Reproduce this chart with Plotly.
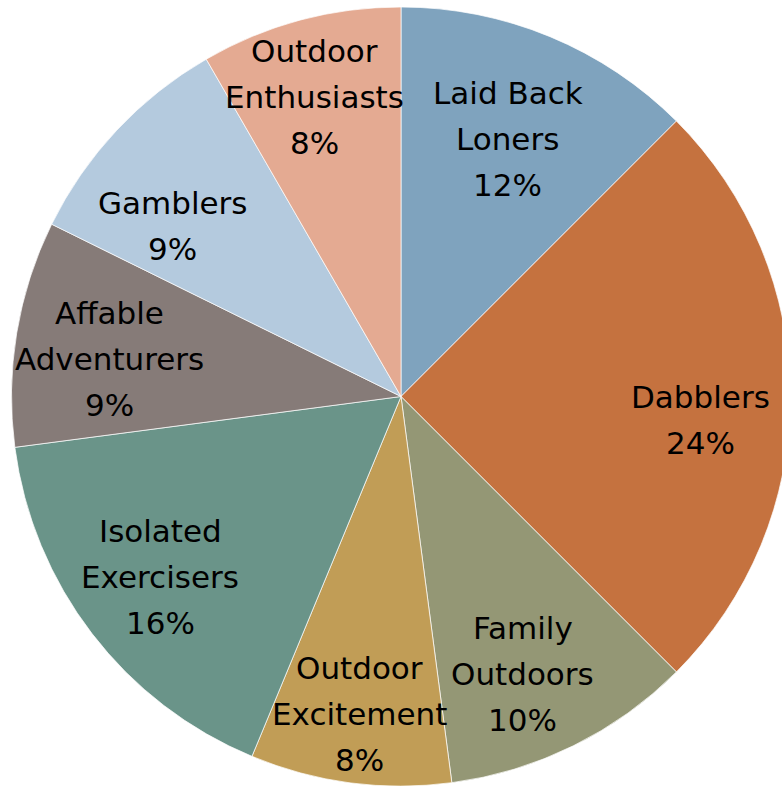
import math
import plotly.graph_objects as go

labels = ["Laid Back Loners", "Dabblers", "Family Outdoors", "Outdoor Excitement",
          "Isolated Exercisers", "Affable Adventurers", "Gamblers", "Outdoor Enthusiasts"]
label_lines = [["Laid Back", "Loners"], ["Dabblers"], ["Family", "Outdoors"], ["Outdoor", "Excitement"],
               ["Isolated", "Exercisers"], ["Affable", "Adventurers"], ["Gamblers"], ["Outdoor", "Enthusiasts"]]
values = [12, 24, 10, 8, 16, 9, 9, 8]
colors = ["#7FA3BE", "#C5723F", "#949775", "#C19D56", "#6A9489", "#867B78", "#B4CADE", "#E4AA92"]

# label nudges in pixels (dx right, dy down) relative to the 0.77R point on each slice's mid-angle
label_nudge = [(-8, 20), (0, 23), (-11, 9), (-2, 20), (-3, -2), (4, 11), (-10, 35), (-9, -10)]

W, H = 791, 786
ML, MR, MT, MB = 11, 0, 7, 0
FONT = "DejaVu Sans"
FS = 31
LINE = 46

fig = go.Figure(go.Pie(
    labels=labels, values=values, sort=False, direction="clockwise", rotation=0,
    marker=dict(colors=colors, line=dict(color="white", width=0.7)),
    textinfo="none", hoverinfo="label+value", showlegend=False,
    domain=dict(x=[0, 1], y=[0, 1]),
))

pw, ph = W - ML - MR, H - MT - MB
R = min(pw, ph) / 2
cx, cy = ML + pw / 2, MT + ph / 2
total = sum(values)
cum = 0
annotations = []
for lines, v, (ndx, ndy) in zip(label_lines, values, label_nudge):
    mid = (cum + v / 2) / total * 2 * math.pi
    cum += v
    r = 0.77 * R
    px = cx + r * math.sin(mid) + ndx
    py = cy - r * math.cos(mid) + ndy
    all_lines = lines + [f"{v}%"]
    n = len(all_lines)
    for i, t in enumerate(all_lines):
        off = (i - (n - 1) / 2) * LINE
        annotations.append(dict(
            text=t, x=(px - ML) / pw, y=(H - MB - py) / ph, xref="paper", yref="paper",
            xanchor="center", yanchor="middle", yshift=-off, showarrow=False,
            font=dict(family=FONT, size=FS, color="#000000"),
        ))

fig.update_layout(
    width=W, height=H, margin=dict(l=ML, r=MR, t=MT, b=MB),
    paper_bgcolor="white", plot_bgcolor="white", annotations=annotations,
)
fig.write_html("out.html")
